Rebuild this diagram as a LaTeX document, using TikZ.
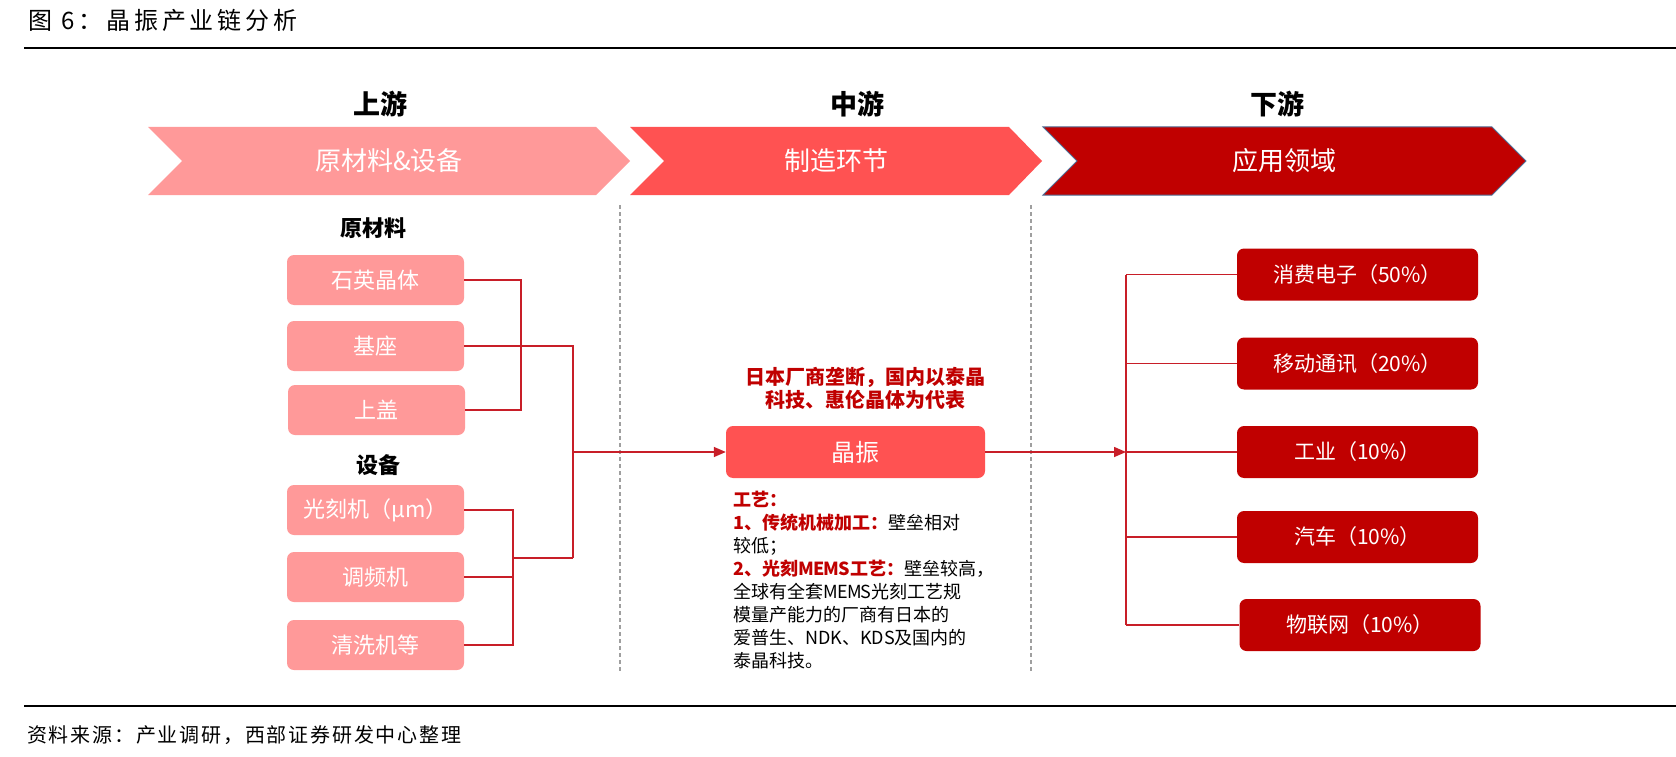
\documentclass[tikz,border=0pt]{standalone}
\usepackage{fontspec}
\setmainfont{Noto Sans CJK SC}
\usetikzlibrary{arrows.meta}
\definecolor{pinkA}{RGB}{255,153,153}
\definecolor{redB}{RGB}{255,82,82}
\definecolor{redC}{RGB}{192,0,0}
\definecolor{lineR}{RGB}{200,30,40}
\definecolor{chevEdge}{RGB}{80,110,150}
\newcommand\fsz[1]{\fontsize{#1}{#1}\selectfont}
\tikzset{
  lbox/.style={fill=pinkA, rounded corners=7pt, text=white, minimum width=177pt, minimum height=50pt, inner sep=0pt, font=\fsz{22}},
  rbox/.style={fill=redC, rounded corners=7pt, text=white, minimum width=241pt, minimum height=52pt, inner sep=0pt, font=\fsz{21}},
  mbox/.style={fill=redB, rounded corners=7pt, text=white, minimum width=259pt, minimum height=52pt, inner sep=0pt, font=\fsz{24}},
  conn/.style={draw=lineR, line width=1.5pt},
  arr/.style={conn, -{Triangle[length=12pt,width=10pt]}},
  head/.style={font=\fsz{27}\bfseries, text=black},
  sub/.style={font=\fsz{22}\bfseries, text=black},
  chevtext/.style={text=white, font=\fsz{26}},
  sep/.style={draw=gray!75, line width=1.2pt, dash pattern=on 4pt off 3pt}
}
\begin{document}
\begin{tikzpicture}[x=1pt,y=-1pt]
\useasboundingbox[fill=white] (0,0) rectangle (1676,757);
% title and rules
\node[anchor=west, inner sep=0pt, font=\fsz{24}\addfontfeature{LetterSpace=16}] (title) at (28,20) {图 6：晶振产业链分析};
\draw[line width=2pt] (24,48) -- (1676,48);
\draw[line width=2pt] (24,706) -- (1676,706);
\node[anchor=west, inner sep=0pt, font=\fsz{20}\addfontfeature{LetterSpace=9}] (src) at (27,735) {资料来源：产业调研，西部证券研发中心整理};
% stage headings
\node[head] (hU) at (380,104) {上游};
\node[head] (hM) at (857,104) {中游};
\node[head] (hD) at (1277,104) {下游};
% chevrons
\fill[pinkA] (148,127) -- (596,127) -- (630,161) -- (596,195) -- (148,195) -- (182,161) -- cycle;
\fill[redB] (630,127) -- (1009,127) -- (1042,161) -- (1009,195) -- (630,195) -- (664,161) -- cycle;
\filldraw[fill=redC, draw=chevEdge, line width=1pt] (1043,127) -- (1492,127) -- (1526,161) -- (1492,195) -- (1043,195) -- (1077,161) -- cycle;
\node[chevtext] (c1) at (389,161) {原材料\&设备};
\node[chevtext] (c2) at (836,161) {制造环节};
\node[chevtext] (c3) at (1284,161) {应用领域};
% separators
\draw[sep] (620,205) -- (620,672);
\draw[sep] (1031,205) -- (1031,672);
% upstream
\node[sub] (raw) at (373,228) {原材料};
\node[sub] (eqp) at (378,465) {设备};
\node[lbox] (qz) at (375.5,280) {石英晶体};
\node[lbox] (jz) at (375.5,346) {基座};
\node[lbox] (sg) at (376.5,410) {上盖};
\node[lbox] (gk) at (375.5,510) {光刻机（μm）};
\node[lbox] (tp) at (375.5,577) {调频机};
\node[lbox] (qx) at (375.5,645) {清洗机等};
\coordinate (v1) at (521,345);
\coordinate (e1) at (513,577);
\coordinate (e2) at (513,558);
\coordinate (j2) at (573,558);
\coordinate (j3) at (573,452);
\draw[conn] (qz.east) -| (v1) |- (sg.east);
\draw[conn] (jz.east) -| (j2);
\draw[conn] (gk.east) -| (e1) |- (qx.east);
\draw[conn] (tp.east) -- (e1);
\draw[conn] (e2) -- (j2);
% midstream
\node[mbox] (jx) at (855.5,452) {晶振};
\draw[arr] (j3) -- (jx.west);
\node[font=\fontsize{20}{23}\selectfont\bfseries, text=redC, align=center] (note) at (865,388) {日本厂商垄断，国内以泰晶\\科技、惠伦晶体为代表};
\node[anchor=north west, inner sep=0pt, align=left, font=\fontsize{18}{23}\selectfont] (proc) at (733,491) {{\color{redC}\bfseries 工艺：}\\
{\color{redC}\bfseries 1、传统机械加工：}壁垒相对\\
较低；\\
{\color{redC}\bfseries 2、光刻{\addfontfeature{LetterSpace=-4}MEMS}工艺：}壁垒较高，\\
全球有全套{\addfontfeature{LetterSpace=-4}MEMS}光刻工艺规\\
模量产能力的厂商有日本的\\
爱普生、NDK、KDS及国内的\\
泰晶科技。};
% downstream
\node[rbox] (r1) at (1357.5,274.5) {消费电子（50\%）};
\node[rbox] (r2) at (1357.5,363.5) {移动通讯（20\%）};
\node[rbox] (r3) at (1357.5,452) {工业（10\%）};
\node[rbox] (r4) at (1357.5,537) {汽车（10\%）};
\node[rbox] (r5) at (1360,625) {物联网（10\%）};
\coordinate (rt) at (1126,274.5);
\coordinate (rb) at (1126,625);
\coordinate (rm) at (1126,452);
\draw[conn] (rt) -- (rb);
\draw[arr] (jx.east) -- (rm);
\draw[conn] (rt) -- (r1.west);
\draw[conn] (r2.west -| rt) -- (r2.west);
\draw[conn] (rm) -- (r3.west);
\draw[conn] (r4.west -| rt) -- (r4.west);
\draw[conn] (rb) -- (r5.west);
\end{tikzpicture}
\end{document}
